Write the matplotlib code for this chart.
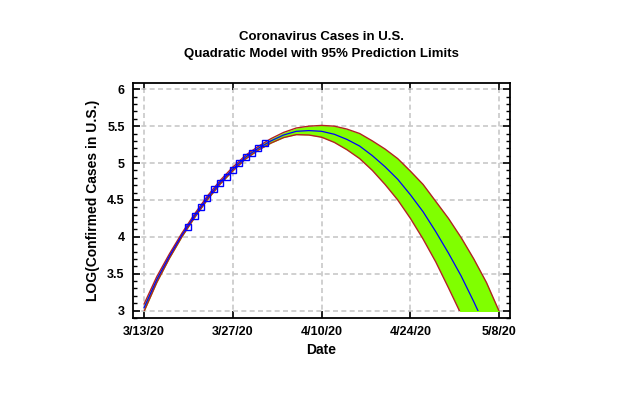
import numpy as np
import pandas as pd
import matplotlib
matplotlib.use('Agg')
import matplotlib.pyplot as plt
import matplotlib.dates as mdates
from matplotlib.patches import Rectangle

plt.rcParams['font.family'] = ['Liberation Sans', 'DejaVu Sans']

# ---------------------------------------------------------------------------
# Data
# ---------------------------------------------------------------------------

start = pd.Timestamp('2020-03-13')

# observed log10 confirmed cases, 3/20 .. 4/1
obs_days = [7, 8, 9, 10, 11, 12, 13, 14, 15, 16, 17, 18, 19]
obs_log = [4.13, 4.28, 4.40, 4.52, 4.645, 4.73, 4.81, 4.90, 5.00, 5.08, 5.135, 5.20, 5.27]

# quadratic model and 95% prediction limits, every 2 days from 3/13
model_days = [0, 2, 4, 6, 8, 10, 12, 14, 16, 18, 20, 22, 24, 26, 28,
              30, 32, 34, 36, 38, 40, 42, 44, 46, 48, 50, 52, 54, 56]
fit_log = [3.04, 3.42, 3.74, 4.03, 4.29, 4.53, 4.74, 4.92, 5.08, 5.20, 5.30, 5.38, 5.43, 5.44, 5.43,
           5.39, 5.32, 5.23, 5.10, 4.95, 4.78, 4.57, 4.34, 4.07, 3.78, 3.47, 3.12, 2.75, 2.35]
upper_log = [3.09, 3.46, 3.77, 4.055, 4.315, 4.555, 4.765, 4.945, 5.105, 5.225, 5.33, 5.415, 5.475,
             5.50, 5.51, 5.50, 5.46, 5.40, 5.30, 5.19, 5.06, 4.89, 4.71, 4.48, 4.25, 3.99, 3.70,
             3.38, 2.99]
lower_log = [2.99, 3.38, 3.71, 4.005, 4.265, 4.505, 4.715, 4.895, 5.055, 5.175, 5.27, 5.345, 5.385,
             5.38, 5.35, 5.28, 5.18, 5.06, 4.90, 4.71, 4.50, 4.25, 3.97, 3.66, 3.31, 2.95, 2.54,
             2.11, 1.65]

tick_days = [0, 14, 28, 42, 56]

obs_dates = [start + pd.Timedelta(days=d) for d in obs_days]
model_dates = [start + pd.Timedelta(days=d) for d in model_days]
tick_dates = [start + pd.Timedelta(days=d) for d in tick_days]

# ---------------------------------------------------------------------------
# Plot
# ---------------------------------------------------------------------------

fig = plt.figure(figsize=(6.4, 3.99), dpi=100)
ax = fig.add_axes([0.2078, 0.203, 0.589, 0.589])

x0 = start - pd.Timedelta(days=1.75)
x1 = start + pd.Timedelta(days=57.7)
ax.set_xlim(x0, x1)
ax.set_ylim(2.9, 6.085)

# band and curves stop at LOG = 3
clip = Rectangle((mdates.date2num(x0), 3.0), 100, 10, transform=ax.transData)

band = ax.fill_between(model_dates, lower_log, upper_log, color='#80ff00', lw=0, zorder=2)
band.set_clip_path(clip)
for ys in (upper_log, lower_log):
    ln, = ax.plot(model_dates, ys, color='#b22222', lw=1.0, zorder=3)
    ln.set_clip_path(clip)
ln, = ax.plot(model_dates, fit_log, color='#0000ff', lw=0.9, zorder=4)
ln.set_clip_path(clip)

ax.plot(obs_dates, obs_log, linestyle='none', marker='s', markersize=5,
        markerfacecolor='none', markeredgecolor='#0000ff', markeredgewidth=1.0, zorder=5)

ax.set_xticks(tick_dates)
ax.set_xticklabels([f'{d.month}/{d.day}/20' for d in tick_dates])
ax.set_yticks([3, 3.5, 4, 4.5, 5, 5.5, 6])
ax.set_yticklabels(['3', '3.5', '4', '4.5', '5', '5.5', '6'])
ax.set_yticks(np.arange(2.9, 6.09, 0.1), minor=True)

ax.grid(True, color='#c8c8c8', linestyle=(0, (3, 2)), linewidth=1.2, zorder=1)
ax.set_axisbelow(True)

ax.tick_params(axis='both', which='major', direction='in', length=5, width=1.2,
               top=True, right=True, labelsize=9, pad=6)
ax.tick_params(axis='y', which='minor', direction='in', length=3, width=1.0,
               left=True, right=True)
for lbl in ax.get_xticklabels() + ax.get_yticklabels():
    lbl.set_fontweight('bold')

for sp in ax.spines.values():
    sp.set_linewidth(1.3)

ax.set_xlabel('Date', fontsize=10, fontweight='bold', labelpad=3)
ax.set_ylabel('LOG(Confirmed Cases in U.S.)', fontsize=10, fontweight='bold', labelpad=5)

fig.text(0.503, 0.908, 'Coronavirus Cases in U.S.', ha='center', va='center',
         fontsize=9.5, fontweight='bold')
fig.text(0.503, 0.865, 'Quadratic Model with 95% Prediction Limits', ha='center', va='center',
         fontsize=9.5, fontweight='bold')

fig.savefig('out.png', dpi=100)
